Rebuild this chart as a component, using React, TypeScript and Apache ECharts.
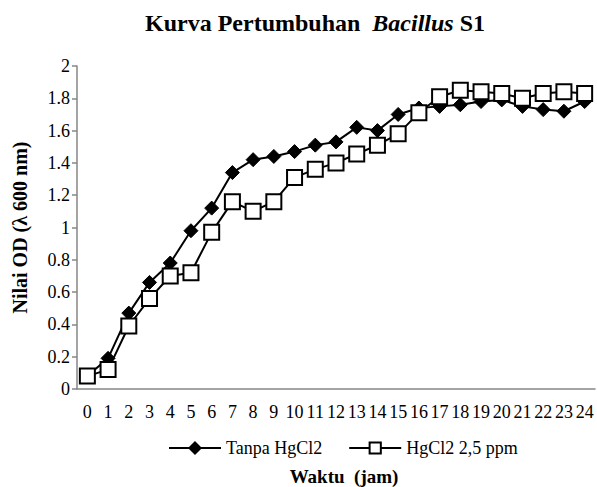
import React, { useEffect, useRef } from "react";
import * as echarts from "echarts";

const hours = ["0","1","2","3","4","5","6","7","8","9","10","11","12","13","14","15","16","17","18","19","20","21","22","23","24"];
const tanpaHgCl2 = [0.08,0.19,0.47,0.66,0.78,0.98,1.12,1.34,1.42,1.44,1.47,1.51,1.53,1.62,1.60,1.70,1.74,1.75,1.76,1.78,1.79,1.75,1.73,1.72,1.78];
const hgcl2 = [0.08,0.12,0.39,0.56,0.70,0.72,0.97,1.16,1.10,1.16,1.31,1.36,1.40,1.455,1.51,1.58,1.71,1.81,1.85,1.84,1.83,1.80,1.83,1.84,1.83];
const seriesNames = ["Tanpa HgCl2", "HgCl2 2,5 ppm"];

const FONT = "'Liberation Serif', 'Times New Roman', serif";

export default function App() {
  const ref = useRef<HTMLDivElement>(null);
  useEffect(() => {
    if (!ref.current) return;
    const chart = echarts.init(ref.current, null, { renderer: "svg" });
    chart.setOption({
      animation: false,
      backgroundColor: "#ffffff",
      textStyle: { fontFamily: FONT },
      title: {
        text: "{a|Kurva Pertumbuhan  }{b|Bacillus}{a| S1}",
        left: 140,
        top: 6,
        textStyle: {
          rich: {
            a: { fontFamily: FONT, fontWeight: "bold", fontSize: 24, color: "#000" },
            b: { fontFamily: FONT, fontWeight: "bold", fontStyle: "italic", fontSize: 24, color: "#000" },
          },
        },
      },
      grid: { left: 77, right: 2, top: 66, bottom: 98, outerBoundsMode: "none", containLabel: false },
      legend: {
        data: seriesNames,
        left: 163,
        top: 434,
        itemWidth: 52,
        itemHeight: 14,
        itemGap: 26,
        textStyle: { fontFamily: FONT, fontSize: 18, color: "#000" },
      },
      xAxis: {
        type: "category",
        data: hours,
        boundaryGap: true,
        name: "Waktu  (jam)",
        nameLocation: "middle",
        nameGap: 78,
        nameTextStyle: { fontFamily: FONT, fontWeight: "bold", fontSize: 19, color: "#000", padding: [0, 0, 0, 16] },
        axisLine: { lineStyle: { color: "#868686", width: 1.5 } },
        axisTick: { show: false },
        axisLabel: { fontFamily: FONT, fontSize: 18, color: "#000", margin: 14, interval: 0 },
      },
      yAxis: {
        type: "value",
        min: 0,
        max: 2,
        interval: 0.2,
        name: "Nilai OD (λ 600 nm)",
        nameLocation: "middle",
        nameGap: 47,
        nameRotate: 90,
        nameTextStyle: { fontFamily: FONT, fontWeight: "bold", fontSize: 20, color: "#000" },
        axisLine: { show: true, lineStyle: { color: "#868686", width: 1.5 } },
        axisTick: { show: true, length: 5, lineStyle: { color: "#868686", width: 1.5 } },
        splitLine: { show: false },
        axisLabel: { fontFamily: FONT, fontSize: 18, color: "#000", margin: 7 },
      },
      series: [
        {
          name: seriesNames[0],
          type: "line",
          data: tanpaHgCl2,
          symbol: "diamond",
          symbolSize: 14,
          lineStyle: { color: "#000", width: 2 },
          itemStyle: { color: "#000", borderColor: "#000", borderWidth: 1 },
        },
        {
          name: seriesNames[1],
          type: "line",
          data: hgcl2,
          symbol: "rect",
          symbolSize: 15,
          lineStyle: { color: "#000", width: 2 },
          itemStyle: { color: "#fff", borderColor: "#000", borderWidth: 2 },
        },
      ],
    });
    return () => chart.dispose();
  }, []);
  return <div ref={ref} style={{ width: 597, height: 487, position: "absolute", left: 0, top: 0 }} />;
}
